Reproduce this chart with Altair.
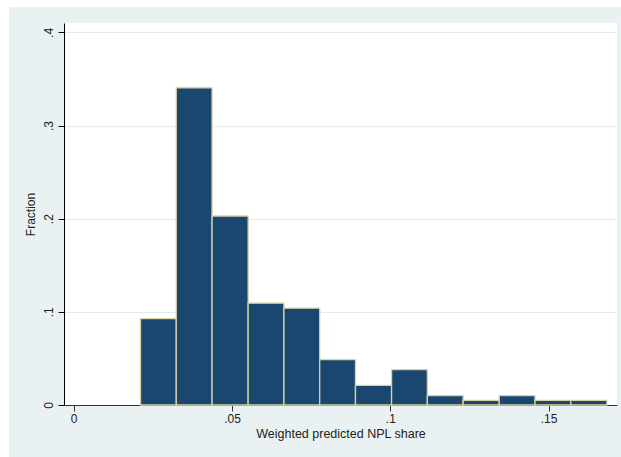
import altair as alt
import pandas as pd

# Histogram bins (lower/upper edges) and the fraction of observations in each
bin_lo = [0.0211, 0.0324, 0.0437, 0.0551, 0.0664, 0.0777, 0.0890, 0.1004,
          0.1117, 0.1230, 0.1344, 0.1457, 0.1570]
bin_hi = [0.0324, 0.0437, 0.0551, 0.0664, 0.0777, 0.0890, 0.1004, 0.1117,
          0.1230, 0.1344, 0.1457, 0.1570, 0.1684]
fraction = [0.0928, 0.3405, 0.2029, 0.1093, 0.1039, 0.0487, 0.0211, 0.0380,
            0.0100, 0.0050, 0.0100, 0.0050, 0.0050]

x_ticks = [0, 0.05, 0.1, 0.15]
y_ticks = [0, 0.1, 0.2, 0.3, 0.4]

df = pd.DataFrame({"lo": bin_lo, "hi": bin_hi, "frac": fraction})

FONT = "Liberation Sans"
NAVY = "#1A476F"
EDGE = "#D9D3A2"
PANEL = "#EAF1F3"
GRID = "#E3ECEF"

no_zero = "datum.value == 0 ? '0' : replace(toString(datum.value), '0.', '.')"

bars = alt.Chart(df).mark_rect(
    fill=NAVY, stroke=EDGE, strokeWidth=1.3
).encode(
    x=alt.X(
        "lo:Q",
        scale=alt.Scale(domain=[-0.00306, 0.1716], nice=False, zero=False),
        axis=alt.Axis(
            values=x_ticks, labelExpr=no_zero, grid=False,
            domainColor="#333333", tickColor="#333333", tickSize=6,
            labelFontSize=12, labelColor="#222222", labelPadding=2,
            labelFont=FONT, labelFlush=False,
            title="Weighted predicted NPL share", titleFont=FONT,
            titleFontSize=12.5, titleFontWeight="normal", titleColor="#222222",
            titlePadding=3,
        ),
    ),
    x2="hi:Q",
    y=alt.Y(
        "frac:Q",
        scale=alt.Scale(domain=[0, 0.4101], nice=False),
        axis=alt.Axis(
            values=y_ticks, labelExpr=no_zero, grid=True, gridColor=GRID,
            gridWidth=1, domainColor="#000000", tickColor="#000000",
            tickSize=6, labelAngle=270, labelAlign="center",
            labelBaseline="bottom", labelFontSize=12, labelColor="#222222",
            labelPadding=3, labelFont=FONT, labelFlush=False,
            title="Fraction", titleFont=FONT, titleFontSize=12,
            titleFontWeight="normal", titleColor="#222222", titlePadding=5,
        ),
    ),
    y2=alt.datum(0),
)

# thin white margin along the top and left edge of the figure
one = alt.Data(values=[{"k": 1}])
left_strip = alt.Chart(one).mark_rect(fill="white").encode(
    x=alt.value(-64), x2=alt.value(-55), y=alt.value(-23), y2=alt.value(434)
)
top_strip = alt.Chart(one).mark_rect(fill="white").encode(
    x=alt.value(-64), x2=alt.value(557), y=alt.value(-23), y2=alt.value(-16)
)

chart = alt.layer(bars, left_strip, top_strip).properties(
    width=553,
    height=382,
    background=PANEL,
    padding={"left": 64, "top": 23, "right": 4, "bottom": 52},
    autosize=alt.AutoSizeParams(type="none"),
).configure_view(fill="white", stroke="transparent", strokeWidth=0)

chart.save("out.html", embed_options={"renderer": "svg", "actions": False})
